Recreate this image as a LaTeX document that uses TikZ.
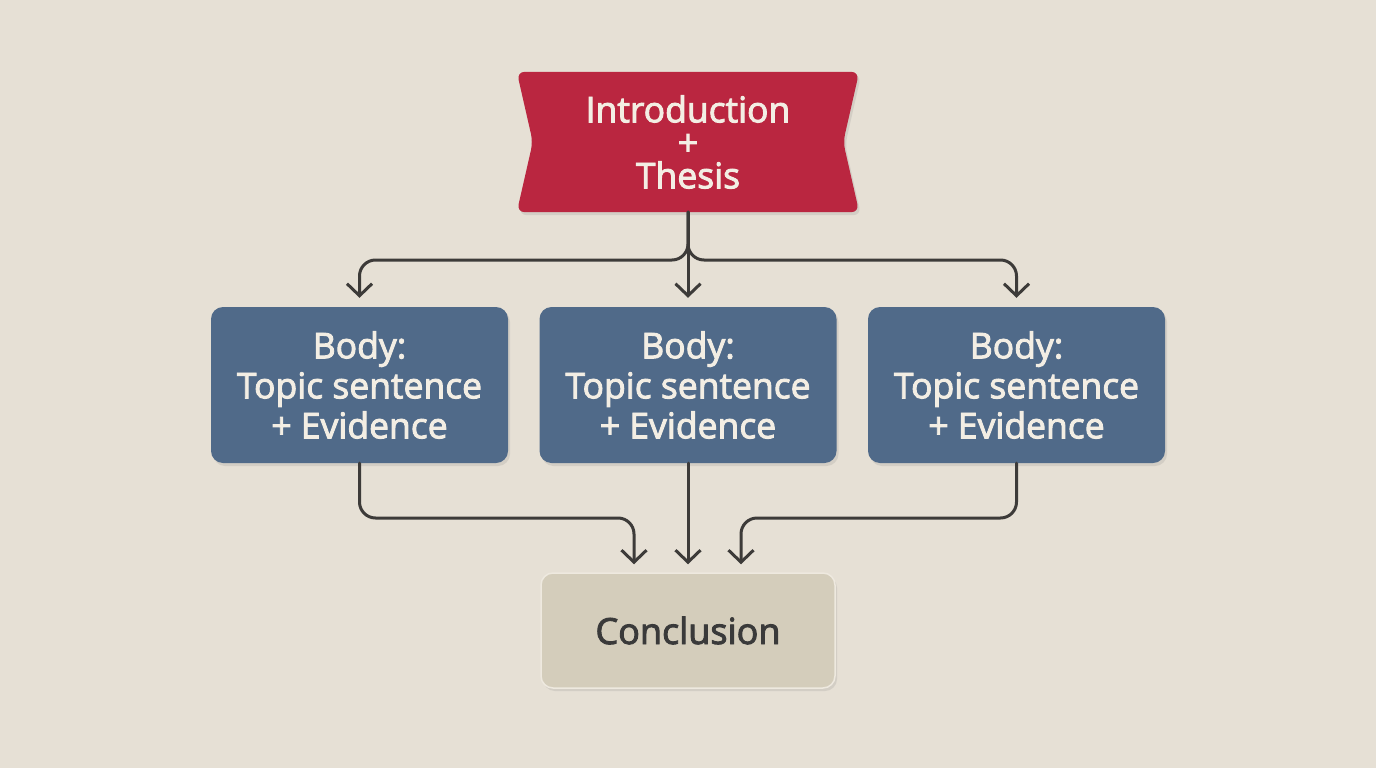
\documentclass[tikz,border=0pt]{standalone}
\usepackage{fontspec}
\setmainfont{Open Sans}
\newfontfamily\labfont{Open Sans}[FakeBold=2.6]
\usetikzlibrary{arrows.meta,shadows,calc}
\pgfdeclarelayer{bg}
\pgfsetlayers{bg,main}
\definecolor{bgc}{HTML}{E6E0D5}
\definecolor{introred}{HTML}{BA2640}
\definecolor{bodyblue}{HTML}{506A89}
\definecolor{concfill}{HTML}{D4CDBB}
\definecolor{concedge}{HTML}{EEE9DF}
\definecolor{linec}{HTML}{3D3B39}
\definecolor{cream}{HTML}{F3EEE4}
\definecolor{darktxt}{HTML}{3A3A3A}
\tikzset{
  shade/.style={drop shadow={opacity=0.18, shadow xshift=2pt, shadow yshift=-3pt}},
  bodybox/.style={rectangle, rounded corners=12pt, fill=bodyblue, shade,
    minimum width=297pt, minimum height=156pt, align=center, text=cream,
    font=\labfont\fontsize{35.5}{40}\selectfont},
  concbox/.style={rectangle, rounded corners=12pt, fill=concfill, draw=concedge, line width=1.5pt, shade,
    minimum width=294pt, minimum height=115pt, align=center, text=darktxt,
    font=\labfont\fontsize{36}{40}\selectfont},
  introtext/.style={rectangle, minimum width=342pt, minimum height=140pt, align=center, text=cream,
    font=\labfont\fontsize{35.5}{33}\selectfont},
  conn/.style={draw=linec, line width=3pt, line cap=round, line join=round,
    -{Straight Barb[length=12pt,width=25pt]}},
}
\begin{document}
\begin{tikzpicture}[x=1pt,y=-1pt]
\begin{pgfonlayer}{bg}
\fill[bgc] (0,0) rectangle (1376,768);
\end{pgfonlayer}
\useasboundingbox (0,0) rectangle (1376,768);

\node[introtext] (intro) at (688,142) {Introduction\\+\\Thesis};
\begin{pgfonlayer}{bg}
\fill[introred, rounded corners=8pt, shade] (intro.north west) -- (intro.north east) -- ($(intro.east)+(-16,0)$) -- (intro.south east) -- (intro.south west) -- ($(intro.west)+(16,0)$) -- cycle;
\end{pgfonlayer}

\node[bodybox] (b1) at (359.5,385) {Body:\\Topic sentence\\+ Evidence};
\node[bodybox] (b2) at (688,385) {Body:\\Topic sentence\\+ Evidence};
\node[bodybox] (b3) at (1016.5,385) {Body:\\Topic sentence\\+ Evidence};

\node[concbox] (conc) at (688,630.5) {Conclusion};

\coordinate (split) at (688,260);
\draw[conn, shorten >=9pt] (intro.south) -- (b2.north);
\draw[conn, shorten >=9pt, rounded corners=16pt] (intro.south) -- (split) -- (split -| b1.north) -- (b1.north);
\draw[conn, shorten >=9pt, rounded corners=16pt] (intro.south) -- (split) -- (split -| b3.north) -- (b3.north);

\coordinate (jl) at (634,518);
\coordinate (jr) at (741,518);
\draw[conn, shorten >=8pt] (b2.south) -- (conc.north);
\draw[conn, shorten >=8pt, rounded corners=16pt] (b1.south) -- (b1.south |- jl) -- (jl) -- (jl |- conc.north);
\draw[conn, shorten >=8pt, rounded corners=16pt] (b3.south) -- (b3.south |- jr) -- (jr) -- (jr |- conc.north);
\end{tikzpicture}
\end{document}
